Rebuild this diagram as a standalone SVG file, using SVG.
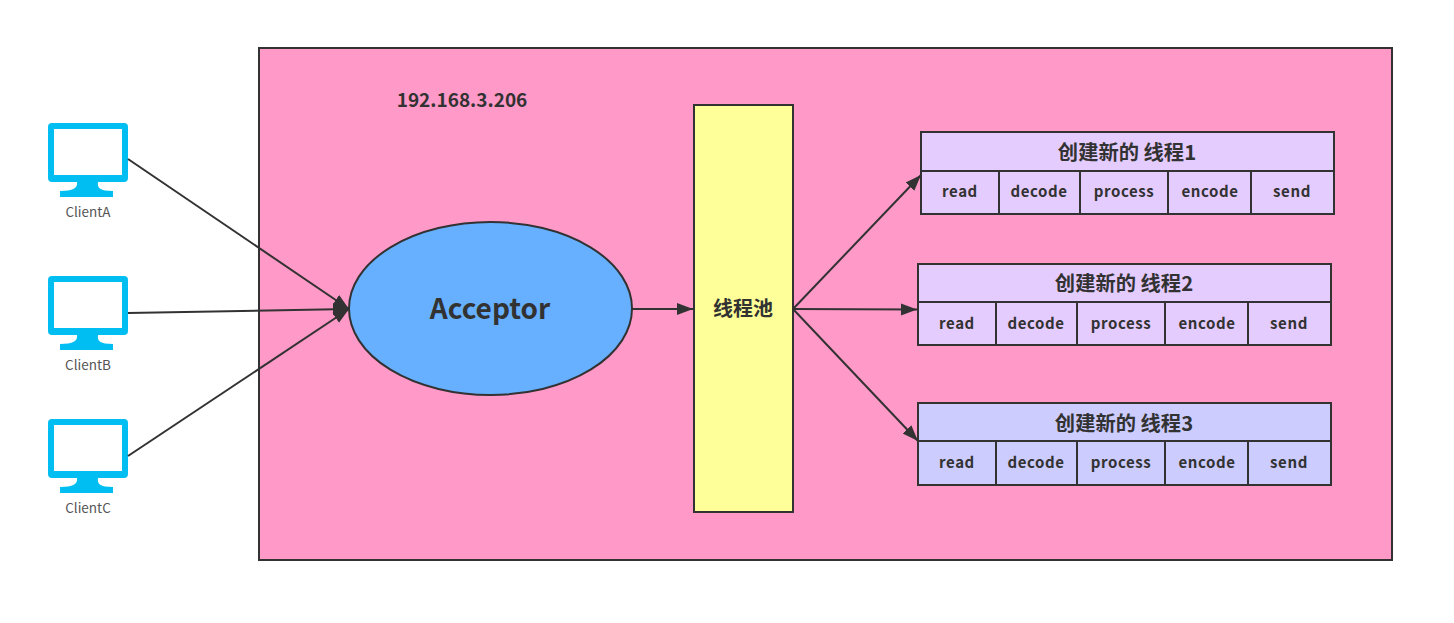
<svg xmlns="http://www.w3.org/2000/svg" width="1454" height="623" viewBox="0 0 1454 623">
<style>
text{font-family:"Noto Sans CJK SC","Noto Sans",sans-serif;fill:#323232;text-anchor:middle;font-weight:700}
.b{stroke:#323232;stroke-width:2}
.c{font-size:15px;letter-spacing:.6px}
.t{font-size:20.300px}
.l{font-size:13.500px;font-weight:400;fill:#555}
.cx{fill:none;stroke:#323232;stroke-width:2;marker-end:url(#a)}
.p{fill:#e5ccff}.q{fill:#ccccff}
.m{fill:#00bef2}
</style>
<defs>
<marker id="a" markerUnits="userSpaceOnUse" markerWidth="18" markerHeight="14" refX="16" refY="7" orient="auto"><path d="M0 1L16 7L0 13Z" fill="#323232"/></marker>
<symbol id="mon" overflow="visible">
<path class="m" fill-rule="evenodd" d="M4 0H76A4 4 0 0 1 80 4V55A4 4 0 0 1 76 59H50C49 65 52 68 65 68V74H12V68C25 68 30 65 29 59H4A4 4 0 0 1 0 55V4A4 4 0 0 1 4 0ZM6 6V52H74V6Z"/>
</symbol>
<path id="lines" class="b" fill="none" d="M0 39H413M78 39V82M159 39V82M247 39V82M330 39V82"/>
<g id="words"><text class="c" x="39" y="65">read</text><text class="c" x="118" y="65">decode</text><text class="c" x="203" y="65">process</text><text class="c" x="289" y="65">encode</text><text class="c" x="371" y="65">send</text></g>
</defs>
<rect width="1454" height="623" fill="#fff"/>
<g id="container"><rect class="b" x="259" y="48" width="1133" height="512" fill="#ff99c8"/><text x="462" y="107" style="font-size:19px">192.168.3.206</text></g>
<g id="clientA"><use href="#mon" x="48" y="123"/><text class="l" x="88" y="217">ClientA</text></g>
<g id="clientB"><use href="#mon" x="48" y="276"/><text class="l" x="88" y="370">ClientB</text></g>
<g id="clientC"><use href="#mon" x="48" y="419"/><text class="l" x="88" y="513">ClientC</text></g>
<g id="acceptor"><ellipse class="b" cx="490.500" cy="308.500" rx="141.500" ry="86.500" fill="#66b0ff"/><text x="490" y="319" style="font-size:28px">Acceptor</text></g>
<g id="pool"><rect class="b" x="694" y="105" width="99" height="407" fill="#ffff99"/><text x="743" y="316" style="font-size:20px">线程池</text></g>
<g id="thread1"><rect class="b p" x="921" y="132" width="413" height="82"/><text class="t" x="1127" y="160">创建新的 线程1</text><use href="#lines" x="921" y="132"/><use href="#words" x="921" y="132"/></g>
<g id="thread2"><rect class="b p" x="918" y="264" width="413" height="81"/><text class="t" x="1124" y="291">创建新的 线程2</text><use href="#lines" x="918" y="263"/><use href="#words" x="918" y="264"/></g>
<g id="thread3"><rect class="b q" x="918" y="403" width="413" height="82"/><text class="t" x="1124" y="431">创建新的 线程3</text><use href="#lines" x="918" y="402"/><use href="#words" x="918" y="403"/></g>
<g id="connectors">
<path class="cx" d="M128 159L349 309"/>
<path class="cx" d="M128 313L349 309"/>
<path class="cx" d="M128 456L349 309"/>
<path class="cx" d="M632 309L693 309"/>
<path class="cx" d="M793 309L921 175"/>
<path class="cx" d="M793 309L917 309.500"/>
<path class="cx" d="M793 309L918 441"/>
</g>
</svg>
